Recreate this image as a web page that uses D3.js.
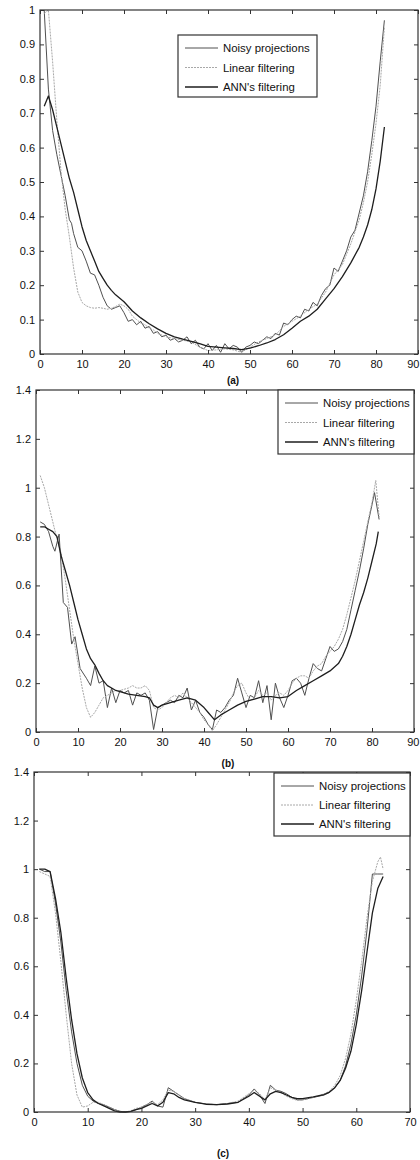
<!doctype html>
<html lang="en">
<head>
<meta charset="utf-8">
<title>Noisy projections vs filtering</title>
<script src="https://d3js.org/d3.v7.min.js"></script>
<style>
  body { margin: 0; background: #fff; }
  svg text { font-family: "Liberation Sans", Arial, sans-serif; fill: #111; }
</style>
</head>
<body>
<svg id="chart" width="420" height="1160"></svg>
<script>
// ---- data: [x, y] ----
// panel (a)
var aNoisy = [[1,1.0],[2,0.77],[3,0.65],[4,0.58],[5,0.52],[6,0.46],[7,0.39],[7.5,0.38],[8,0.35],[9,0.31],[10,0.3],[11,0.27],[12,0.235],[13,0.23],[14,0.2],[15,0.165],[16,0.14],[17,0.13],[18,0.135],[19,0.14],[20,0.12],[21,0.095],[22,0.1],[23,0.085],[24,0.095],[25,0.075],[26,0.08],[27,0.06],[28,0.065],[29,0.05],[30,0.055],[31,0.04],[32,0.045],[33,0.035],[34,0.04],[35,0.05],[36,0.03],[37,0.04],[38,0.02],[39,0.015],[40,0.03],[41,0.01],[42,0.025],[43,0.005],[44,0.03],[45,0.015],[46,0.025],[47,0.02],[48,0.005],[49,0.02],[50,0.025],[51,0.035],[52,0.03],[53,0.04],[54,0.05],[55,0.045],[56,0.06],[57,0.055],[58,0.09],[59,0.085],[60,0.1],[61,0.11],[62,0.105],[63,0.13],[64,0.125],[65,0.15],[66,0.14],[67,0.17],[68,0.19],[69,0.2],[70,0.25],[71,0.24],[72,0.27],[73,0.3],[74,0.34],[75,0.36],[76,0.41],[77,0.46],[78,0.53],[79,0.62],[80,0.72],[81,0.85],[82,0.97]];
var aLinear = [[1,0.99],[2,1.0],[3,0.85],[4,0.68],[5,0.53],[6,0.42],[7,0.34],[8,0.25],[9,0.18],[10,0.15],[11,0.14],[12,0.135],[13,0.133],[14,0.135],[15,0.133],[16,0.13],[17,0.133],[18,0.138],[19,0.145],[20,0.14],[21,0.13],[22,0.11],[23,0.1],[24,0.09],[25,0.085],[26,0.075],[27,0.07],[28,0.06],[30,0.05],[32,0.045],[34,0.04],[36,0.035],[38,0.02],[40,0.01],[42,0.012],[44,0.015],[46,0.012],[48,0.005],[50,0.02],[52,0.035],[54,0.045],[56,0.055],[58,0.08],[60,0.095],[62,0.11],[64,0.13],[66,0.145],[68,0.18],[70,0.23],[72,0.26],[74,0.32],[76,0.39],[77,0.44],[78,0.5],[79,0.58],[80,0.67],[81,0.78],[82,0.95]];
var aAnn = [[1,0.72],[2,0.75],[3,0.71],[4,0.66],[5,0.61],[6,0.56],[7,0.51],[8,0.47],[9,0.42],[10,0.37],[11,0.33],[12,0.3],[13,0.27],[14,0.24],[15,0.22],[16,0.2],[17,0.185],[18,0.172],[19,0.162],[20,0.152],[22,0.125],[24,0.105],[26,0.088],[28,0.073],[30,0.06],[32,0.05],[34,0.043],[36,0.037],[38,0.03],[40,0.022],[42,0.02],[44,0.018],[46,0.016],[48,0.013],[50,0.017],[52,0.024],[54,0.032],[56,0.042],[58,0.056],[60,0.075],[62,0.095],[64,0.11],[66,0.13],[68,0.16],[70,0.19],[72,0.225],[74,0.265],[76,0.31],[77,0.34],[78,0.375],[79,0.42],[80,0.48],[81,0.56],[82,0.66]];

// panel (b)
var bNoisy = [[1,0.86],[2,0.85],[3,0.82],[4,0.76],[4.5,0.74],[5.5,0.81],[6.5,0.53],[7.5,0.51],[8.5,0.36],[9.3,0.39],[10.5,0.26],[12,0.22],[13,0.19],[14,0.27],[15,0.2],[16,0.21],[17,0.1],[18,0.18],[19,0.12],[20,0.17],[21,0.16],[22,0.17],[23,0.11],[24,0.16],[25,0.15],[26,0.16],[27,0.13],[28,0.01],[29,0.1],[30,0.11],[31,0.12],[32,0.13],[33,0.12],[34,0.15],[35,0.14],[36,0.18],[37,0.09],[38,0.13],[39,0.08],[40,0.06],[41,0.03],[42,0.01],[43,0.09],[44,0.08],[45,0.1],[46,0.13],[47,0.15],[48,0.22],[49,0.16],[50,0.1],[51,0.15],[52,0.14],[53,0.21],[54,0.12],[55,0.19],[56,0.05],[57,0.2],[58,0.14],[59,0.1],[60,0.15],[61,0.21],[62,0.22],[63,0.2],[64,0.15],[65,0.22],[66,0.28],[67,0.26],[68,0.25],[69,0.3],[70,0.35],[71,0.33],[72,0.34],[73,0.37],[74,0.42],[75,0.5],[76,0.58],[77,0.66],[78,0.75],[79,0.85],[80,0.93],[80.6,0.98],[81.7,0.87]];
var bLinear = [[1,1.05],[2,1.0],[3,0.93],[4,0.86],[5,0.79],[6,0.73],[7,0.62],[8,0.5],[9,0.38],[10,0.28],[11,0.18],[12,0.1],[13,0.06],[14,0.08],[15,0.11],[16,0.14],[17,0.15],[18,0.16],[19,0.17],[20,0.17],[22,0.18],[23,0.19],[24,0.18],[25,0.18],[26,0.19],[27,0.17],[28,0.1],[29,0.09],[30,0.1],[31,0.12],[32,0.14],[33,0.15],[34,0.14],[35,0.16],[36,0.14],[37,0.12],[38,0.1],[39,0.08],[40,0.05],[41,0.03],[42,0.005],[43,0.03],[44,0.06],[45,0.09],[46,0.12],[47,0.16],[48,0.19],[49,0.2],[50,0.16],[51,0.13],[52,0.14],[53,0.17],[54,0.15],[55,0.16],[56,0.13],[57,0.15],[58,0.16],[59,0.15],[60,0.17],[61,0.2],[62,0.22],[63,0.23],[64,0.23],[65,0.22],[66,0.25],[67,0.27],[68,0.28],[69,0.31],[70,0.33],[71,0.35],[72,0.38],[73,0.42],[74,0.48],[75,0.55],[76,0.62],[77,0.7],[78,0.78],[79,0.86],[80,0.94],[80.9,1.03],[81.7,0.88]];
var bAnn = [[1,0.84],[2,0.84],[3,0.83],[4,0.82],[5,0.8],[6,0.72],[7,0.66],[8,0.6],[9,0.53],[10,0.46],[11,0.4],[12,0.34],[13,0.3],[14,0.275],[15,0.24],[16,0.21],[17,0.19],[18,0.18],[19,0.17],[20,0.165],[22,0.155],[24,0.15],[26,0.145],[27,0.14],[28,0.11],[29,0.1],[30,0.11],[32,0.12],[34,0.13],[36,0.14],[38,0.13],[40,0.1],[41,0.08],[42,0.06],[42.5,0.05],[44,0.07],[46,0.09],[48,0.11],[50,0.125],[52,0.135],[54,0.145],[56,0.145],[58,0.14],[60,0.145],[62,0.17],[64,0.19],[66,0.21],[68,0.23],[70,0.25],[72,0.28],[73,0.31],[74,0.35],[75,0.4],[76,0.46],[77,0.52],[78,0.57],[79,0.63],[80,0.7],[81,0.77],[81.5,0.82]];

// panel (c)
var cNoisy = [[1,1.0],[2,0.99],[3,0.99],[4,0.86],[5,0.7],[6,0.5],[7,0.33],[8,0.2],[9,0.11],[10,0.065],[11,0.045],[12,0.035],[13,0.03],[14,0.02],[15,0.01],[16,0.003],[17,0.0],[18,0.002],[19,0.01],[20,0.02],[21,0.03],[22,0.045],[23,0.025],[24,0.02],[25,0.1],[26,0.085],[27,0.07],[28,0.055],[30,0.04],[32,0.033],[34,0.03],[36,0.035],[38,0.04],[40,0.07],[41,0.095],[42,0.07],[43,0.035],[44,0.11],[45,0.09],[46,0.085],[47,0.075],[48,0.06],[49,0.05],[50,0.05],[52,0.06],[54,0.07],[55,0.08],[56,0.1],[57,0.13],[58,0.19],[59,0.28],[60,0.4],[61,0.56],[62,0.75],[63,0.98],[64,0.98],[65,0.98]];
var cLinear = [[1,0.99],[2,0.98],[3,0.97],[4,0.82],[5,0.62],[6,0.4],[7,0.2],[8,0.07],[9,0.02],[10,0.025],[11,0.04],[12,0.04],[13,0.03],[14,0.02],[15,0.01],[16,0.002],[17,0.0],[18,0.005],[19,0.015],[20,0.02],[21,0.03],[22,0.04],[23,0.03],[24,0.05],[25,0.09],[26,0.085],[27,0.07],[28,0.055],[30,0.04],[32,0.033],[34,0.03],[36,0.035],[38,0.045],[40,0.075],[41,0.09],[42,0.075],[43,0.05],[44,0.1],[45,0.09],[46,0.08],[47,0.065],[48,0.055],[49,0.048],[50,0.05],[52,0.06],[54,0.075],[55,0.085],[56,0.11],[57,0.15],[58,0.22],[59,0.32],[60,0.46],[61,0.62],[62,0.8],[63,0.95],[64,1.03],[64.5,1.05],[65,1.0]];
var cAnn = [[1,1.0],[2,1.0],[3,0.99],[4,0.88],[5,0.74],[6,0.55],[7,0.38],[8,0.24],[9,0.14],[10,0.08],[11,0.05],[12,0.035],[13,0.025],[14,0.015],[15,0.005],[16,0.0],[17,0.0],[18,0.003],[19,0.01],[20,0.015],[21,0.025],[22,0.035],[23,0.025],[24,0.04],[25,0.08],[26,0.075],[27,0.06],[28,0.05],[30,0.04],[32,0.032],[34,0.03],[36,0.033],[38,0.04],[40,0.065],[41,0.08],[42,0.065],[43,0.05],[44,0.075],[45,0.085],[46,0.08],[47,0.07],[48,0.06],[49,0.055],[50,0.055],[52,0.062],[54,0.072],[55,0.082],[56,0.1],[57,0.13],[58,0.18],[59,0.25],[60,0.36],[61,0.5],[62,0.66],[63,0.82],[64,0.92],[65,0.97]];

var legendNames = ["Noisy projections", "Linear filtering", "ANN's filtering"];

// panel boxes (pixel layout of the scan)
var panels = [
  {cap: "(a)", series: [aNoisy, aLinear, aAnn], left: 40, right: 418, top: 10, bottom: 354, xMax: 90, yMax: 1, yStep: 0.1,
   capX: 233, capY: 384, leg: {x: 178, y: 35, w: 139, h: 62, row: 19.5}},
  {cap: "(b)", series: [bNoisy, bLinear, bAnn], left: 36, right: 414, top: 390, bottom: 732, xMax: 90, yMax: 1.4, yStep: 0.2,
   capX: 228, capY: 767, leg: {x: 278, y: 390, w: 136, h: 64, row: 19.5}},
  {cap: "(c)", series: [cNoisy, cLinear, cAnn], left: 34, right: 410, top: 772, bottom: 1112, xMax: 70, yMax: 1.4, yStep: 0.2,
   capX: 223, capY: 1157, leg: {x: 274, y: 773, w: 136, h: 63, row: 19}}
];

var styles = [
  {stroke: "#505050", width: 1, dash: null},
  {stroke: "#a8a8a8", width: 1, dash: "2,1"},
  {stroke: "#1e1e1e", width: 1.3, dash: null}
];

function fmt(d) {
  var r = Math.round(d * 10) / 10;
  return Number.isInteger(r) ? String(r) : r.toFixed(1);
}

var svg = d3.select("#chart");

panels.forEach(function(p) {
  var x = d3.scaleLinear().domain([0, p.xMax]).range([p.left, p.right]);
  var y = d3.scaleLinear().domain([0, p.yMax]).range([p.bottom, p.top]);
  var g = svg.append("g");
  var xt = d3.range(0, p.xMax + 0.001, 10);
  var yt = d3.range(0, p.yMax + 0.001, p.yStep);

  // lines
  var line = d3.line().x(function(d) { return x(d[0]); }).y(function(d) { return y(d[1]); });
  p.series.forEach(function(s, i) {
    g.append("path").datum(s).attr("d", line)
      .attr("fill", "none")
      .attr("stroke", styles[i].stroke)
      .attr("stroke-width", styles[i].width)
      .attr("stroke-dasharray", styles[i].dash)
      .attr("stroke-linejoin", "round");
  });

  // axes, ticks pointing in (matlab box)
  var ax = [
    g.append("g").attr("transform", "translate(0," + p.bottom + ")")
      .call(d3.axisBottom(x).tickValues(xt).tickSizeInner(-4).tickSizeOuter(0).tickPadding(6).tickFormat(d3.format("d"))),
    g.append("g").attr("transform", "translate(0," + p.top + ")")
      .call(d3.axisTop(x).tickValues(xt).tickSizeInner(-4).tickSizeOuter(0).tickFormat("")),
    g.append("g").attr("transform", "translate(" + p.left + ",0)")
      .call(d3.axisLeft(y).tickValues(yt).tickSizeInner(-4).tickSizeOuter(0).tickPadding(5).tickFormat(fmt)),
    g.append("g").attr("transform", "translate(" + p.right + ",0)")
      .call(d3.axisRight(y).tickValues(yt).tickSizeInner(-4).tickSizeOuter(0).tickFormat(""))
  ];
  ax.forEach(function(a) {
    a.select(".domain").remove();
    a.selectAll("line").attr("stroke", "#333");
    a.selectAll("text").style("font-size", "11px").style("font-family", "'Liberation Sans', Arial, sans-serif").attr("fill", "#111");
  });
  // last x label would run off the page edge in (a)
  if (p.right + 7 > 420) {
    ax[0].selectAll(".tick text").filter(function(d) { return d === p.xMax; })
      .attr("text-anchor", "end").attr("dx", 420 - p.right - 1);
  }

  g.append("rect").attr("x", p.left).attr("y", p.top)
    .attr("width", p.right - p.left).attr("height", p.bottom - p.top)
    .attr("fill", "none").attr("stroke", "#333").attr("stroke-width", 1.2);

  // legend
  var L = p.leg;
  var lg = g.append("g").attr("transform", "translate(" + L.x + "," + L.y + ")");
  lg.append("rect").attr("width", L.w).attr("height", L.h)
    .attr("fill", "#fff").attr("stroke", "#333").attr("stroke-width", 1.2);
  legendNames.forEach(function(name, i) {
    var yy = 13 + i * L.row;
    lg.append("line").attr("x1", 7).attr("x2", 40).attr("y1", yy).attr("y2", yy)
      .attr("stroke", styles[i].stroke).attr("stroke-width", styles[i].width)
      .attr("stroke-dasharray", styles[i].dash);
    lg.append("text").attr("x", 45).attr("y", yy + 4)
      .style("font-size", "11.4px").text(name);
  });

  g.append("text").attr("x", p.capX).attr("y", p.capY).attr("text-anchor", "middle")
    .style("font-size", "10px").style("font-weight", "bold").text(p.cap);
});
</script>
</body>
</html>
